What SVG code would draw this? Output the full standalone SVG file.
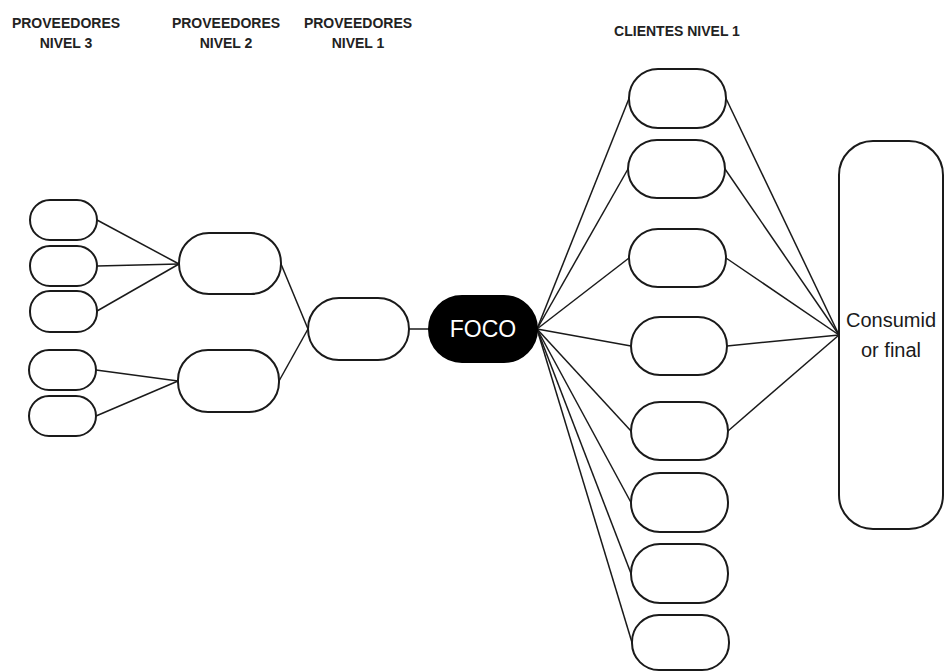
<svg xmlns="http://www.w3.org/2000/svg" width="945" height="671" viewBox="0 0 945 671">
  <style>
    .node { fill: #ffffff; stroke: #1a1a1a; stroke-width: 2; }
    .focus { fill: #000000; stroke: #000000; stroke-width: 2; }
    .edge { stroke: #1a1a1a; stroke-width: 1.5; fill: none; }
    .header { font-family: "Liberation Sans", Arial, sans-serif; font-size: 14px; font-weight: bold; fill: #222222; text-anchor: middle; }
    .label { font-family: "Liberation Sans", Arial, sans-serif; font-size: 20px; fill: #1a1a1a; text-anchor: middle; }
    .focus-label { font-family: "Liberation Sans", Arial, sans-serif; font-size: 23px; fill: #ffffff; text-anchor: middle; }
  </style>
  <rect width="945" height="671" fill="#ffffff"/>

  <!-- column headers -->
  <g id="headers">
    <text class="header" x="66" y="28">PROVEEDORES</text>
    <text class="header" x="66" y="48">NIVEL 3</text>
    <text class="header" x="226" y="28">PROVEEDORES</text>
    <text class="header" x="226" y="48">NIVEL 2</text>
    <text class="header" x="358" y="28">PROVEEDORES</text>
    <text class="header" x="358" y="48">NIVEL 1</text>
    <text class="header" x="677" y="36">CLIENTES NIVEL 1</text>
  </g>

  <!-- connectors -->
  <g id="connectors" class="edge">
    <!-- tier 3 to tier 2 -->
    <line x1="97" y1="220" x2="179" y2="264"/>
    <line x1="97" y1="266" x2="179" y2="264"/>
    <line x1="97" y1="311" x2="179" y2="264"/>
    <line x1="96" y1="370" x2="178" y2="381"/>
    <line x1="96" y1="416" x2="178" y2="381"/>
    <!-- tier 2 to tier 1 -->
    <line x1="281" y1="264" x2="308" y2="329"/>
    <line x1="279" y1="381" x2="308" y2="329"/>
    <!-- tier 1 to focus -->
    <line x1="409" y1="329" x2="429" y2="329"/>
    <!-- focus to customers -->
    <line x1="537" y1="329" x2="629" y2="98.5"/>
    <line x1="537" y1="329" x2="628" y2="169"/>
    <line x1="537" y1="329" x2="629" y2="258"/>
    <line x1="537" y1="329" x2="631" y2="346"/>
    <line x1="537" y1="329" x2="631" y2="431"/>
    <line x1="537" y1="329" x2="631" y2="502.5"/>
    <line x1="537" y1="329" x2="631" y2="573.5"/>
    <line x1="537" y1="329" x2="632" y2="642.5"/>
    <!-- customers to final consumer -->
    <line x1="726" y1="98.5" x2="839" y2="335"/>
    <line x1="725" y1="169" x2="839" y2="335"/>
    <line x1="726" y1="258" x2="839" y2="335"/>
    <line x1="727" y1="346" x2="839" y2="335"/>
    <line x1="728" y1="431" x2="839" y2="335"/>
  </g>

  <!-- supplier tier 3 -->
  <g id="p3-1"><rect class="node" x="30" y="200" width="67" height="40" rx="20"/></g>
  <g id="p3-2"><rect class="node" x="30" y="246" width="67" height="40" rx="20"/></g>
  <g id="p3-3"><rect class="node" x="30" y="291" width="67" height="41" rx="20"/></g>
  <g id="p3-4"><rect class="node" x="29" y="350" width="67" height="40" rx="20"/></g>
  <g id="p3-5"><rect class="node" x="29" y="396" width="67" height="40" rx="20"/></g>

  <!-- supplier tier 2 -->
  <g id="p2-1"><rect class="node" x="179" y="233" width="102" height="61" rx="30"/></g>
  <g id="p2-2"><rect class="node" x="178" y="350" width="101" height="62" rx="30"/></g>

  <!-- supplier tier 1 -->
  <g id="p1-1"><rect class="node" x="308" y="298" width="101" height="62" rx="31"/></g>

  <!-- focus company -->
  <g id="foco">
    <rect class="focus" x="429" y="296" width="108" height="66" rx="33"/>
    <text class="focus-label" x="483" y="337">FOCO</text>
  </g>

  <!-- tier 1 customers -->
  <g id="c1"><rect class="node" x="629" y="69" width="97" height="59" rx="29"/></g>
  <g id="c2"><rect class="node" x="628" y="140" width="97" height="58" rx="29"/></g>
  <g id="c3"><rect class="node" x="629" y="229" width="97" height="58" rx="29"/></g>
  <g id="c4"><rect class="node" x="631" y="317" width="96" height="58" rx="29"/></g>
  <g id="c5"><rect class="node" x="631" y="402" width="97" height="58" rx="29"/></g>
  <g id="c6"><rect class="node" x="631" y="473" width="97" height="59" rx="29"/></g>
  <g id="c7"><rect class="node" x="631" y="544" width="97" height="59" rx="29"/></g>
  <g id="c8"><rect class="node" x="632" y="615" width="97" height="55" rx="27"/></g>

  <!-- final consumer -->
  <g id="consumidor">
    <rect class="node" x="839" y="141" width="104" height="388" rx="34"/>
    <text class="label" x="891" y="327">Consumid</text>
    <text class="label" x="891" y="357">or final</text>
  </g>
</svg>
